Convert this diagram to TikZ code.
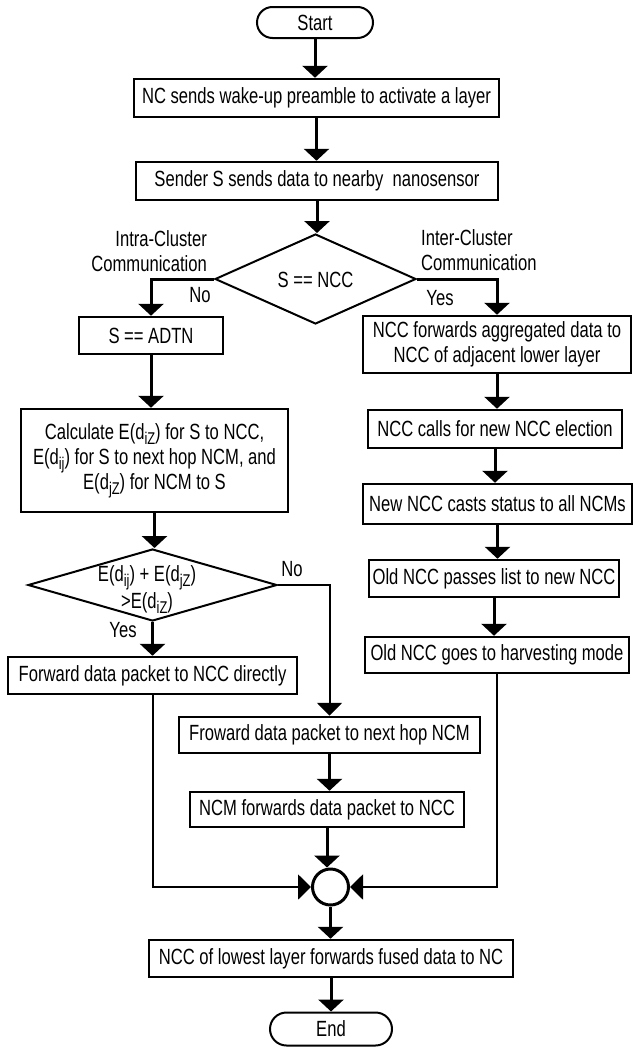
\documentclass[tikz,border=0pt]{standalone}
\usepackage{fontspec}
\setmainfont{Liberation Sans}[FakeStretch=0.755]
\usetikzlibrary{arrows.meta,shapes.geometric,shapes.misc}
\newcommand\sbx[1]{\raisebox{-5pt}{\fontsize{17}{17}\selectfont #1}}
\begin{document}
\begin{tikzpicture}[x=1pt,y=-1pt,
  font=\fontsize{22}{25}\selectfont,
  box/.style={draw, line width=2.5pt, inner sep=0pt, align=center},
  term/.style={draw, rounded rectangle, line width=2pt, inner sep=0pt},
  dia/.style={draw, diamond, line width=2pt, inner sep=0pt},
  lbl/.style={inner sep=0pt},
  conn/.style={line width=3pt, -{Triangle[width=25pt,length=12pt]}},
  thinconn/.style={line width=2pt, -{Triangle[width=25pt,length=13pt]}}
]
\useasboundingbox (0,0) rectangle (633,1047);

% left / centre column
\node[term, minimum width=116pt, minimum height=31pt] (start) at (315,22.5) {Start};
\node[box, minimum width=365pt, minimum height=38pt] (b1) at (316.5,98) {NC sends wake-up preamble to activate a layer};
\node[box, minimum width=362pt, minimum height=38pt] (b2) at (317,181) {Sender S sends data to nearby\ \ nanosensor};
\node[dia, minimum width=201pt, minimum height=90pt] (d1) at (315.5,279) {};
\node[lbl] (d1t) at (315.5,280) {S == NCC};
\node[box, minimum width=144pt, minimum height=37pt] (adtn) at (151,335.5) {S == ADTN};
\node[box, minimum width=267pt, minimum height=103pt] (calc) at (154.5,460.5)
  {Calculate E(d\sbx{iZ}) for S to NCC,\\E(d\sbx{ij}) for S to next hop NCM, and\\E(d\sbx{jZ}) for NCM to S};
\node[dia, minimum width=249pt, minimum height=72pt] (d2) at (152.5,585) {};
\node[lbl, align=center, font=\fontsize{22}{27}\selectfont] (d2t) at (147,590) {E(d\sbx{ij}) + E(d\sbx{jZ})\\>E(d\sbx{iZ})};
\node[box, minimum width=289pt, minimum height=37pt] (fwd) at (152.5,675.5) {Forward data packet to NCC directly};

% right column
\node[box, minimum width=268pt, minimum height=57pt] (r1) at (497,344.5) {NCC forwards aggregated data to\\NCC of adjacent lower layer};
\node[box, minimum width=254pt, minimum height=38pt] (r2) at (495,429) {NCC calls for new NCC election};
\node[box, minimum width=269pt, minimum height=40pt] (r3) at (497.5,504) {New NCC casts status to all NCMs};
\node[box, minimum width=250pt, minimum height=37pt] (r4) at (494,578.5) {Old NCC passes list to new NCC};
\node[box, minimum width=264pt, minimum height=36pt] (r5) at (497,655) {Old NCC goes to harvesting mode};

% middle lower
\node[box, minimum width=301pt, minimum height=36pt] (nh) at (329.5,735) {Froward data packet to next hop NCM};
\node[box, minimum width=274pt, minimum height=35pt] (ncm) at (327,809.5) {NCM forwards data packet to NCC};
\node[draw, circle, line width=3pt, minimum size=36pt, inner sep=0pt] (merge) at (330.5,887) {};
\node[box, minimum width=364pt, minimum height=37pt] (last) at (331,958.5) {NCC of lowest layer forwards fused data to NC};
\node[term, minimum width=122pt, minimum height=33pt] (end) at (331,1029) {End};

% labels
\node[lbl, align=right, anchor=east] (intra) at (207,251) {Intra-Cluster\\Communication};
\node[lbl, align=left, anchor=west] (inter) at (421,250.5) {Inter-Cluster\\Communication};
\node[lbl] (no1) at (200,295) {No};
\node[lbl] (yes1) at (440,298) {Yes};
\node[lbl] (no2) at (292,569) {No};
\node[lbl] (yes2) at (123,630) {Yes};

% connectors
\draw[conn] (start.south) -- (start.south |- b1.north);
\draw[conn] (b1.south) -- (b1.south |- b2.north);
\draw[conn] (b2.south) -- (b2.south |- d1.north);
\draw[conn] (d1.west) -| (adtn.north);
\draw[conn] (d1.east) -| (r1.north);
\draw[conn] (adtn.south) -- (adtn.south |- calc.north);
\draw[conn] (calc.south) -- (calc.south |- d2.north);
\draw[conn] (d2.south) -- (d2.south |- fwd.north);
\draw[thinconn] (d2.east) -| (nh.north);
\draw[conn] (r1.south) -- (r1.south |- r2.north);
\draw[conn] (r2.south) -- (r2.south |- r3.north);
\draw[conn] (r3.south) -- (r3.south |- r4.north);
\draw[conn] (r4.south) -- (r4.south |- r5.north);
\draw[conn] (nh.south) -- (nh.south |- ncm.north);
\draw[conn] (ncm.south) -- (ncm.south |- merge.north);
\draw[thinconn] (fwd.south) |- (merge.west);
\draw[thinconn] (r5.south) |- (merge.east);
\draw[conn] (merge.south) -- (merge.south |- last.north);
\draw[conn] (last.south) -- (last.south |- end.north);
\end{tikzpicture}
\end{document}
